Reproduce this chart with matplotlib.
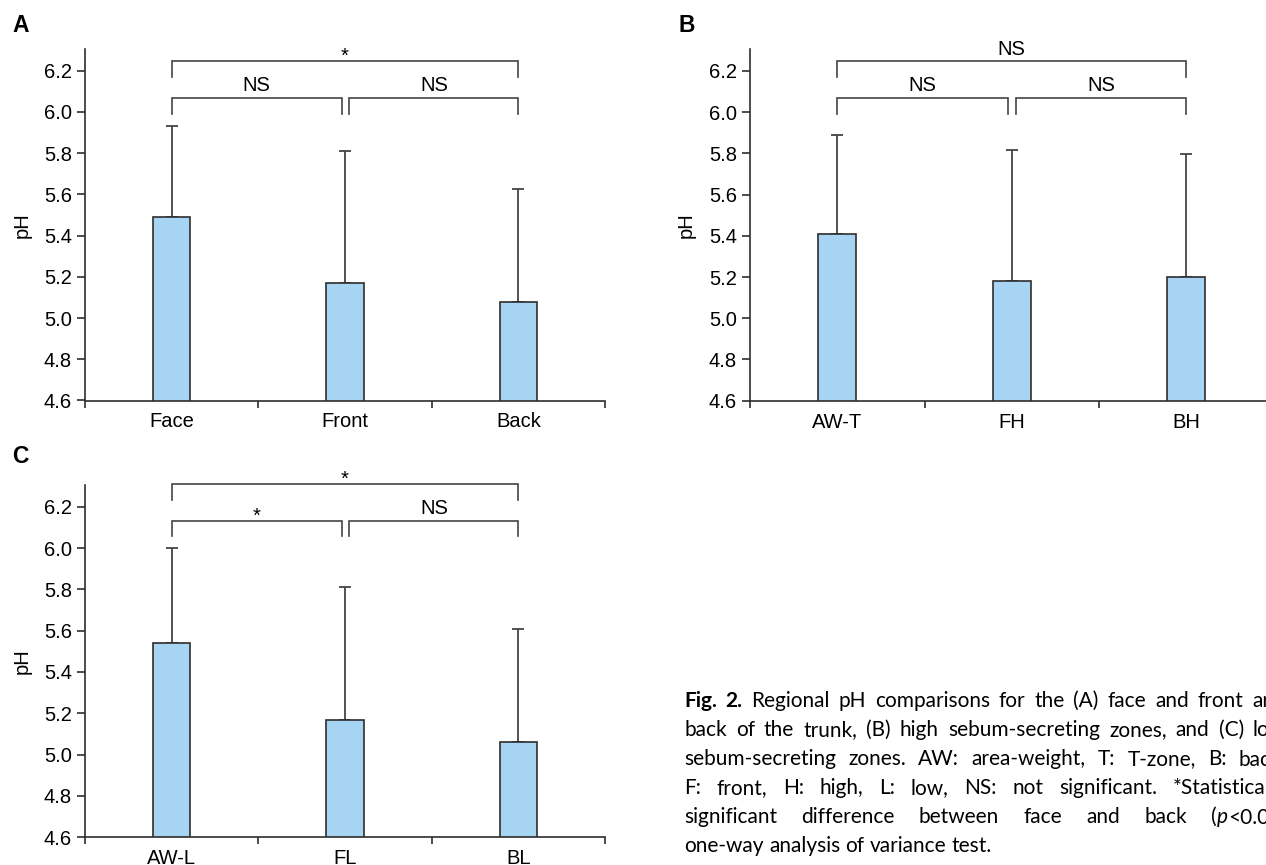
import re
import matplotlib
matplotlib.use('Agg')
import matplotlib.pyplot as plt

W, H = 1266, 865

# Panel A: face vs trunk
a_labels = ['Face', 'Front', 'Back']
a_means = [5.49, 5.17, 5.08]
a_sd = [0.443, 0.639, 0.545]
a_sig = ['NS', 'NS', '*']          # left pair, right pair, outer pair

# Panel B: high sebum-secreting zones
b_labels = ['AW-T', 'FH', 'BH']
b_means = [5.41, 5.18, 5.20]
b_sd = [0.479, 0.634, 0.595]
b_sig = ['NS', 'NS', 'NS']

# Panel C: low sebum-secreting zones
c_labels = ['AW-L', 'FL', 'BL']
c_means = [5.54, 5.17, 5.06]
c_sd = [0.458, 0.643, 0.547]
c_sig = ['*', 'NS', '*']

y_ticks = [4.6, 4.8, 5.0, 5.2, 5.4, 5.6, 5.8, 6.0, 6.2]

caption = [
    "**Fig. **2.** Regional pH comparisons for the (A) face and front and",
    "back of the trunk, (B) high sebum-secreting zones, and (C) low",
    "sebum-secreting zones. AW: area-weight, T: T-zone, B: back,",
    "F: front, H: high, L: low, NS: not significant. *Statistically",
    "significant difference between face and back (_p_<0.05,",
    "one-way analysis of variance test.",
]

BAR_COLOR = '#a6d4f2'
LINE = '#2e2e2e'
FONT = 'Liberation Sans'
FS = 14.5

plt.rcParams['font.family'] = FONT


def bracket(ax, x0, x1, y, text, drop=0.076):
    ax.plot([x0, x0, x1, x1], [y - drop, y, y, y - drop], color='#444444', lw=1.2,
            clip_on=False, solid_joinstyle='miter')
    off = 0.033 if text == 'NS' else -0.004
    ax.text((x0 + x1) / 2, y + off, text, ha='center', va='baseline',
            fontsize=FS, clip_on=False)


def draw_panel(ax, labels, means, sd, sig, low_y, high_y):
    x = list(range(len(labels)))
    ax.errorbar(x, means, yerr=[[0] * len(sd), sd], fmt='none', ecolor='#444444',
                elinewidth=1.3, capsize=4, capthick=1.3, zorder=2)
    ax.bar(x, means, width=0.217, color=BAR_COLOR, edgecolor=LINE, linewidth=1.2,
           zorder=3)
    ax.set_xlim(-0.5, 2.5)
    ax.set_ylim(4.6, 6.305)
    for sp in ['top', 'right']:
        ax.spines[sp].set_visible(False)
    for sp in ['left', 'bottom']:
        ax.spines[sp].set_color(LINE)
        ax.spines[sp].set_linewidth(1.2)
        ax.spines[sp].set_zorder(4)
    ax.set_yticks(y_ticks)
    ax.set_yticklabels(['%.1f' % v for v in y_ticks])
    ax.tick_params(axis='y', length=5.5, width=1.2, pad=4, labelsize=FS,
                   color=LINE, direction='out')
    ax.set_xticks(x)
    ax.set_xticklabels(labels)
    ax.tick_params(axis='x', which='major', length=0, pad=8.5, labelsize=FS)
    ax.set_xticks([-0.5, 0.5, 1.5, 2.5], minor=True)
    ax.tick_params(axis='x', which='minor', length=5, width=1.2, color=LINE,
                   direction='out')
    ax.text(-0.121, 0.5, 'pH', transform=ax.transAxes, rotation=90,
            ha='center', va='center', fontsize=FS)
    bracket(ax, 0, 0.98, low_y, sig[0])
    bracket(ax, 1.025, 2, low_y, sig[1])
    bracket(ax, 0, 2, high_y, sig[2])


fig = plt.figure(figsize=(W / 100, H / 100), dpi=100)

ax_a = fig.add_axes([85 / W, 1 - 400.5 / H, 520 / W, 351.5 / H])
ax_b = fig.add_axes([750 / W, 1 - 400.7 / H, 523.5 / W, 351.5 / H])
ax_c = fig.add_axes([85 / W, 1 - 837.3 / H, 520 / W, 352.3 / H])

draw_panel(ax_a, a_labels, a_means, a_sd, a_sig, 6.068, 6.246)
draw_panel(ax_b, b_labels, b_means, b_sd, b_sig, 6.068, 6.246)
draw_panel(ax_c, c_labels, c_means, c_sd, c_sig, 6.132, 6.31)

for letter, px, py in [('A', 12, 32), ('B', 678, 32.3), ('C', 12, 463)]:
    fig.text(px / W, 1 - py / H, letter, fontsize=16.5, fontweight='bold',
             ha='left', va='baseline')

# caption, justified word by word
CAP_FS = 15
CAP_FONT = 'Lato'
renderer = fig.canvas.get_renderer()


def parse_word(word):
    if word.startswith('**'):
        return [(word.replace('**', ''), 'bold', 'normal')]
    segs = []
    for part in re.split(r'(_[^_]+_)', word):
        if not part:
            continue
        if part.startswith('_') and part.endswith('_'):
            segs.append((part[1:-1], 'normal', 'italic'))
        else:
            segs.append((part, 'normal', 'normal'))
    return segs


def seg_width(s, weight, style):
    t = fig.text(0, 0, s, fontsize=CAP_FS, family=CAP_FONT, weight=weight, style=style)
    w = t.get_window_extent(renderer).width
    t.remove()
    return w


space_w = seg_width('a a', 'normal', 'normal') - seg_width('aa', 'normal', 'normal')
x_left, x_right = 684, 1286
for i, line in enumerate(caption):
    words = [parse_word(w) for w in line.split(' ')]
    seg_ws = [[seg_width(*s) for s in w] for w in words]
    total = sum(sum(ws) for ws in seg_ws)
    if i < len(caption) - 1:
        gap = max((x_right - x_left - total) / (len(words) - 1), space_w * 0.8)
    else:
        gap = space_w
    y = 706.7 + 29 * i
    xp = x_left
    for w, ws in zip(words, seg_ws):
        for (s, weight, style), sw in zip(w, ws):
            fig.text(xp / W, 1 - y / H, s, fontsize=CAP_FS, family=CAP_FONT,
                     weight=weight, style=style, ha='left', va='baseline')
            xp += sw
        xp += gap

fig.savefig('out.png', dpi=100)
